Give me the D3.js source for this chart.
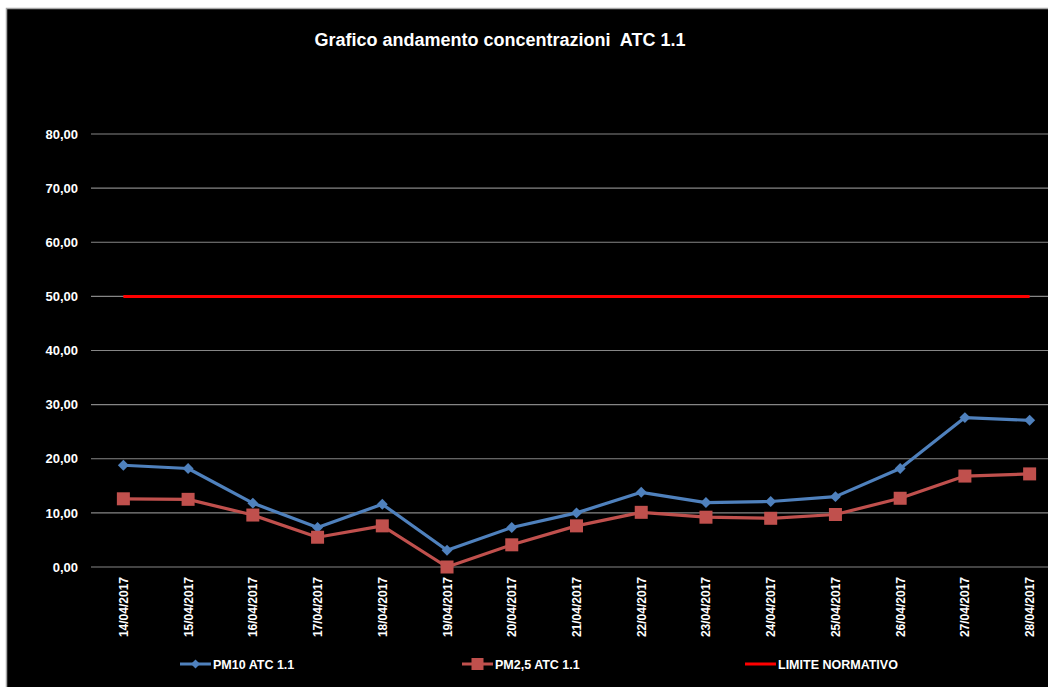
<!DOCTYPE html>
<html>
<head>
<meta charset="utf-8">
<script src="https://cdn.jsdelivr.net/npm/d3@7/dist/d3.min.js"></script>
<style>
  html, body { margin: 0; padding: 0; background: #ffffff; }
  svg { display: block; }
  text { font-family: "Liberation Sans", Arial, sans-serif; font-weight: bold; fill: #ffffff; }
</style>
</head>
<body>
<script>
// Daily concentrations at station ATC 1.1 (µg/m³)
const dates = ["14/04/2017","15/04/2017","16/04/2017","17/04/2017","18/04/2017","19/04/2017","20/04/2017",
               "21/04/2017","22/04/2017","23/04/2017","24/04/2017","25/04/2017","26/04/2017","27/04/2017","28/04/2017"];
const pm10  = [18.8, 18.2, 11.8, 7.3, 11.6, 3.1, 7.3, 10.0, 13.8, 11.9, 12.1, 13.0, 18.2, 27.6, 27.1];
const pm25  = [12.6, 12.5, 9.6, 5.5, 7.6, 0.0, 4.1, 7.6, 10.1, 9.2, 9.0, 9.7, 12.7, 16.8, 17.2];
const limite = dates.map(() => 50);
const yTicks = [0, 10, 20, 30, 40, 50, 60, 70, 80];
const seriesNames = ["PM10 ATC 1.1", "PM2,5 ATC 1.1", "LIMITE NORMATIVO"];
const title = "Grafico andamento concentrazioni  ATC 1.1";

const W = 1048, H = 687;
const svg = d3.select("body").append("svg").attr("width", W).attr("height", H);

// chart area frame
svg.append("rect").attr("x", 6.5).attr("y", 8.5).attr("width", W).attr("height", H)
  .attr("fill", "#000000").attr("stroke", "#a6a6a6").attr("stroke-width", 1.5);

const plot = { left: 91, right: 1062, top: 134, bottom: 567 };

const x = d3.scalePoint().domain(dates).range([plot.left, plot.right]).padding(0.5);
const y = d3.scaleLinear().domain([0, 80]).range([plot.bottom, plot.top]);

// title
svg.append("text").attr("x", 500).attr("y", 46).attr("text-anchor", "middle")
  .style("font-size", "18px").style("white-space", "pre").text(title);

// horizontal gridlines
svg.append("g").selectAll("line").data(yTicks).join("line")
  .attr("x1", plot.left).attr("x2", plot.right)
  .attr("y1", d => y(d)).attr("y2", d => y(d))
  .attr("stroke", "#868686").attr("stroke-width", 1.2);

// y axis labels
const yAxis = d3.axisLeft(y).tickValues(yTicks).tickSize(0).tickPadding(13)
  .tickFormat(d => d3.format(".2f")(d).replace(".", ","));
const gy = svg.append("g").attr("transform", `translate(${plot.left},0)`).call(yAxis);
gy.select(".domain").remove();
gy.selectAll("text").style("font-size", "13px").style("font-family", "'Liberation Sans', Arial, sans-serif")
  .style("font-weight", "bold").attr("fill", "#ffffff");

// x axis labels (rotated)
const xAxis = d3.axisBottom(x).tickSize(0).tickPadding(0);
const gx = svg.append("g").attr("transform", `translate(0,${plot.bottom})`).call(xAxis);
gx.select(".domain").remove();
gx.selectAll("text")
  .style("font-size", "12px").style("font-family", "'Liberation Sans', Arial, sans-serif")
  .style("font-weight", "bold").attr("fill", "#ffffff")
  .attr("text-anchor", "end").attr("dy", null)
  .attr("transform", "translate(4,10) rotate(-90)");

const line = d3.line().x((d, i) => x(dates[i])).y(d => y(d));

const blue = "#4f81bd", red = "#c0504d", limitRed = "#ff0000";

// limit line
svg.append("path").datum(limite).attr("d", line)
  .attr("fill", "none").attr("stroke", limitRed).attr("stroke-width", 3);

// PM10
svg.append("path").datum(pm10).attr("d", line)
  .attr("fill", "none").attr("stroke", blue).attr("stroke-width", 3.2).attr("stroke-linejoin", "round");
svg.append("g").selectAll("path").data(pm10).join("path")
  .attr("d", d3.symbol().type(d3.symbolSquare).size(60)())
  .attr("transform", (d, i) => `translate(${x(dates[i])},${y(d)}) rotate(45)`)
  .attr("fill", blue);

// PM2.5
svg.append("path").datum(pm25).attr("d", line)
  .attr("fill", "none").attr("stroke", red).attr("stroke-width", 3.2).attr("stroke-linejoin", "round");
svg.append("g").selectAll("rect").data(pm25).join("rect")
  .attr("x", (d, i) => x(dates[i]) - 6.5).attr("y", d => y(d) - 6.5)
  .attr("width", 13).attr("height", 13).attr("fill", red);

// legend
const legY = 664;
const legend = [
  { name: seriesNames[0], x0: 180, color: blue, marker: "diamond" },
  { name: seriesNames[1], x0: 462, color: red, marker: "square" },
  { name: seriesNames[2], x0: 745, color: limitRed, marker: null }
];
legend.forEach(l => {
  const g = svg.append("g");
  g.append("line").attr("x1", l.x0).attr("x2", l.x0 + 31).attr("y1", legY).attr("y2", legY)
    .attr("stroke", l.color).attr("stroke-width", 3);
  const cx = l.x0 + 15.5;
  if (l.marker === "diamond") {
    g.append("path").attr("d", d3.symbol().type(d3.symbolSquare).size(40)())
      .attr("transform", `translate(${cx},${legY}) rotate(45)`).attr("fill", l.color);
  } else if (l.marker === "square") {
    g.append("rect").attr("x", cx - 6).attr("y", legY - 6).attr("width", 12).attr("height", 12)
      .attr("fill", l.color);
  }
  g.append("text").attr("x", l.x0 + 33).attr("y", legY + 5).style("font-size", "12.5px").text(l.name);
});
</script>
</body>
</html>
